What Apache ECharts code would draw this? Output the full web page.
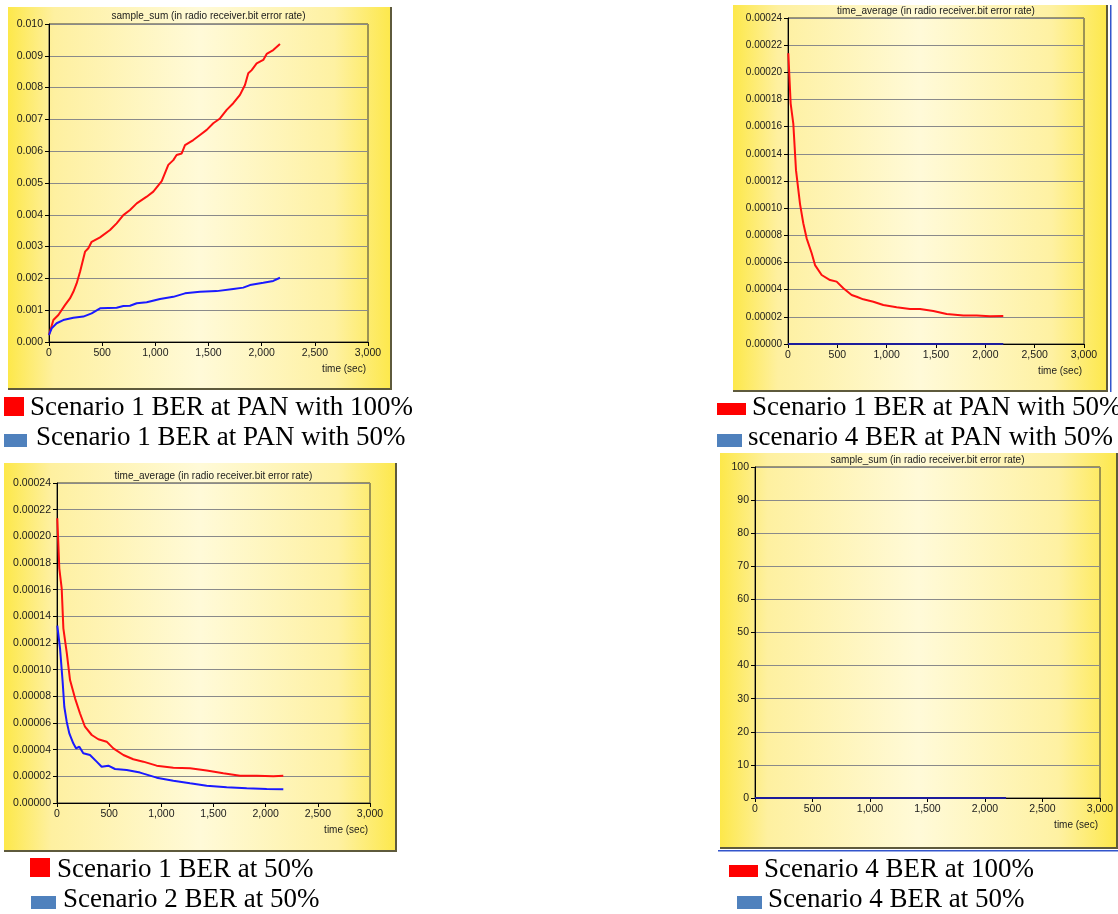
<!DOCTYPE html>
<html>
<head>
<meta charset="utf-8">
<title>Bit error rate — radio receiver</title>
<script src="https://cdn.jsdelivr.net/npm/echarts@6/dist/echarts.min.js"></script>
<style>
  html, body { margin: 0; padding: 0; background: #ffffff; }
  #chart { width: 1118px; height: 914px; }
</style>
</head>
<body>
<div id="chart"></div>
<script>
// ---- data: time (sec) and bit error rate per series ----
const timeTicks = [0, 500, 1000, 1500, 2000, 2500, 3000];

// Panel A: sample_sum, Scenario 1 at PAN 100% / 50%
const s1Pan100Time = [0, 41, 88, 150, 197, 229, 260, 292, 339, 370, 401, 480, 574, 636, 699, 762, 825, 919, 981, 1060, 1122, 1169, 1200, 1248, 1279, 1357, 1420, 1483, 1545, 1608, 1671, 1733, 1796, 1843, 1874, 1906, 1953, 2015, 2047, 2109, 2172];
const s1Pan100Sum = [0.00022, 0.00069, 0.00085, 0.00116, 0.00137, 0.00158, 0.00184, 0.00221, 0.00284, 0.00295, 0.00315, 0.00329, 0.00352, 0.00373, 0.00399, 0.00415, 0.00436, 0.00457, 0.00473, 0.00506, 0.00557, 0.00572, 0.00588, 0.00593, 0.00619, 0.00635, 0.00651, 0.00667, 0.00688, 0.00703, 0.00730, 0.00751, 0.00777, 0.00808, 0.00845, 0.00855, 0.00876, 0.00887, 0.00906, 0.00918, 0.00937];
const s1Pan50Time = [0, 25, 72, 134, 229, 323, 401, 480, 636, 699, 762, 825, 919, 1044, 1169, 1279, 1420, 1577, 1733, 1827, 1890, 2015, 2109, 2172];
const s1Pan50Sum = [0.00022, 0.00043, 0.00059, 0.00069, 0.00076, 0.00080, 0.00090, 0.00106, 0.00108, 0.00113, 0.00114, 0.00122, 0.00125, 0.00135, 0.00142, 0.00153, 0.00158, 0.00160, 0.00167, 0.00171, 0.00179, 0.00186, 0.00192, 0.00202];

// Panel B: time_average, Scenario 1 vs scenario 4 at PAN 50%
const s1Pan50AvgTime = [3, 27, 54, 81, 122, 155, 189, 240, 274, 341, 426, 493, 561, 645, 696, 763, 865, 966, 1101, 1236, 1338, 1473, 1608, 1777, 1912, 2047, 2182];
const s1Pan50Avg = [0.000214, 0.000177, 0.000162, 0.000128, 0.000103, 0.0000889, 0.0000778, 0.0000668, 0.0000581, 0.0000508, 0.0000471, 0.0000459, 0.0000410, 0.0000361, 0.0000348, 0.0000329, 0.0000311, 0.0000287, 0.0000270, 0.0000258, 0.0000258, 0.0000243, 0.0000221, 0.0000209, 0.0000209, 0.0000204, 0.0000206];
const s4Pan50AvgTime = [0, 2182];
const s4Pan50Avg = [0, 0];

// Panel C: time_average, Scenario 1 vs Scenario 2 at 50%
const s1At50Time = [3, 22, 45, 61, 93, 125, 173, 220, 268, 333, 396, 476, 540, 636, 731, 827, 955, 1115, 1275, 1435, 1594, 1754, 1914, 2074, 2169];
const s1At50Avg = [0.0002135, 0.000176, 0.000161, 0.000131, 0.000113, 0.0000922, 0.0000785, 0.0000673, 0.0000572, 0.0000510, 0.0000478, 0.0000460, 0.0000410, 0.0000360, 0.0000328, 0.0000310, 0.0000280, 0.0000265, 0.0000260, 0.0000243, 0.0000223, 0.0000205, 0.0000205, 0.0000200, 0.0000205];
const s2At50Time = [3, 29, 54, 70, 93, 118, 156, 182, 214, 252, 316, 380, 428, 492, 556, 668, 796, 955, 1115, 1275, 1435, 1626, 1818, 2010, 2169];
const s2At50Avg = [0.000133, 0.000116, 0.000091, 0.0000722, 0.0000610, 0.0000522, 0.0000448, 0.0000410, 0.0000422, 0.0000373, 0.0000360, 0.0000310, 0.0000272, 0.0000280, 0.0000255, 0.0000248, 0.0000228, 0.0000190, 0.0000167, 0.0000148, 0.0000130, 0.0000118, 0.0000110, 0.0000105, 0.0000103];

// Panel D: sample_sum, Scenario 4 at 100% / 50%
const s4At100Time = [0, 2183];
const s4At100Sum = [0, 0];
const s4At50Time = [0, 2183];
const s4At50Sum = [0, 0];

const statTitles = ['sample_sum (in radio receiver.bit error rate)', 'time_average (in radio receiver.bit error rate)'];
const legendTexts = [
  ['Scenario 1 BER at PAN with 100%', 'Scenario 1 BER at PAN with 50%'],
  ['Scenario 1 BER at PAN with 50%', 'scenario 4 BER at PAN with 50%'],
  ['Scenario 1 BER at 50%', 'Scenario 2 BER at 50%'],
  ['Scenario 4 BER at 100%', 'Scenario 4 BER at 50%']
];

// ---- layout and styling ----
const RED = '#ff1010';
const BLUE = '#1a1aff';
const KEY_RED = '#ff0000';
const KEY_BLUE = '#4f81bd';
const SANS = '"Liberation Sans", Arial, sans-serif';
const SERIF = '"Liberation Serif", "Times New Roman", serif';

const panels = [
  { box: [8, 7, 384, 383], grid: [49, 24, 319, 318], yMax: 0.010, yStep: 0.001, dec: 3, title: statTitles[0], titleY: 16,
    keys: [{ r: [4, 397, 20, 19], tx: 30, ty: 408 }, { r: [4, 434, 23, 13], tx: 36, ty: 438 }] },
  { box: [733, 5, 375, 387], grid: [788, 18, 296, 326], yMax: 0.00024, yStep: 0.00002, dec: 5, title: statTitles[1], titleY: 11,
    keys: [{ r: [717, 403, 29, 12], tx: 752, ty: 408 }, { r: [717, 434, 25, 13], tx: 748, ty: 438 }] },
  { box: [4, 463, 393, 389], grid: [57, 483, 313, 320], yMax: 0.00024, yStep: 0.00002, dec: 5, title: statTitles[1], titleY: 476,
    keys: [{ r: [30, 858, 20, 19], tx: 57, ty: 870 }, { r: [31, 896, 25, 13], tx: 63, ty: 900 }] },
  { box: [720, 453, 398, 396], grid: [755, 467, 345, 331], yMax: 100, yStep: 10, dec: 0, title: statTitles[0], titleY: 460,
    keys: [{ r: [729, 865, 29, 12], tx: 764, ty: 870 }, { r: [737, 896, 25, 13], tx: 768, ty: 900 }] }
];

const seriesDefs = [
  { panel: 0, name: legendTexts[0][0], t: s1Pan100Time, v: s1Pan100Sum, color: RED },
  { panel: 0, name: legendTexts[0][1], t: s1Pan50Time, v: s1Pan50Sum, color: BLUE },
  { panel: 1, name: legendTexts[1][0], t: s1Pan50AvgTime, v: s1Pan50Avg, color: RED },
  { panel: 1, name: legendTexts[1][1], t: s4Pan50AvgTime, v: s4Pan50Avg, color: '#1c1c9c' },
  { panel: 2, name: legendTexts[2][0], t: s1At50Time, v: s1At50Avg, color: RED },
  { panel: 2, name: legendTexts[2][1], t: s2At50Time, v: s2At50Avg, color: BLUE },
  { panel: 3, name: legendTexts[3][0], t: s4At100Time, v: s4At100Sum, color: RED },
  { panel: 3, name: legendTexts[3][1], t: s4At50Time, v: s4At50Sum, color: '#1c1c9c' }
];

const commaFmt = v => String(v).replace(/\B(?=(\d{3})+(?!\d))/g, ',');

const panelFill = new echarts.graphic.LinearGradient(0, 0, 1, 0, [
  { offset: 0, color: '#fde84a' },
  { offset: 0.12, color: '#fef0a0' },
  { offset: 0.5, color: '#fffad8' },
  { offset: 0.85, color: '#fef1a2' },
  { offset: 1, color: '#fde84a' }
]);

const grids = [], xAxes = [], yAxes = [], graphics = [];

panels.forEach((p, i) => {
  const [gl, gt, gw, gh] = p.grid;
  grids.push({ left: gl, top: gt, width: gw, height: gh, show: true, borderColor: '#3a3a3a', borderWidth: 1, backgroundColor: 'transparent' });
  xAxes.push({
    type: 'value', gridIndex: i, min: timeTicks[0], max: timeTicks[timeTicks.length - 1], interval: timeTicks[1] - timeTicks[0],
    name: 'time (sec)', nameLocation: 'end', nameGap: -2,
    nameTextStyle: { fontFamily: SANS, fontSize: 10, color: '#1a1a1a', align: 'right', verticalAlign: 'top', padding: [22, 0, 0, 0] },
    axisLine: { show: true, onZero: false, lineStyle: { color: '#000', width: 1 } },
    axisTick: { show: true, length: 4, lineStyle: { color: '#000' } },
    axisLabel: { fontFamily: SANS, fontSize: 10.5, color: '#1a1a1a', margin: 6, formatter: commaFmt },
    splitLine: { show: false }
  });
  yAxes.push({
    type: 'value', gridIndex: i, min: 0, max: p.yMax, interval: p.yStep,
    axisLine: { show: true, lineStyle: { color: '#000', width: 1 } },
    axisTick: { show: true, length: 4, lineStyle: { color: '#000' } },
    axisLabel: { fontFamily: SANS, fontSize: i === 1 ? 10 : 10.5, color: '#1a1a1a', margin: 6, formatter: v => v.toFixed(p.dec) },
    splitLine: { show: true, lineStyle: { color: '#8a8a8a', width: 1 } }
  });

  // panel backdrop with its darker right and bottom frame
  const [bx, by, bw, bh] = p.box;
  graphics.push({ type: 'rect', z: -10, shape: { x: bx, y: by, width: bw, height: bh }, style: { fill: panelFill } });
  graphics.push({ type: 'rect', z: -9, shape: { x: bx + bw - 2, y: by, width: 2, height: bh }, style: { fill: '#5e5a3c' } });
  graphics.push({ type: 'rect', z: -9, shape: { x: bx, y: by + bh - 2, width: bw, height: 2 }, style: { fill: '#5e5a3c' } });

  // statistic title centred over the plot
  graphics.push({ type: 'text', z: 5, x: gl + gw / 2, y: p.titleY,
    style: { text: p.title, font: '10px ' + SANS, fill: '#1a1a1a', align: 'center', verticalAlign: 'middle' } });

  // key lines below each panel
  p.keys.forEach((k, j) => {
    graphics.push({ type: 'rect', z: 5, shape: { x: k.r[0], y: k.r[1], width: k.r[2], height: k.r[3] },
      style: { fill: j === 0 ? KEY_RED : KEY_BLUE } });
    graphics.push({ type: 'text', z: 5, x: k.tx, y: k.ty,
      style: { text: legendTexts[i][j], font: '27px ' + SERIF, fill: '#000', align: 'left', verticalAlign: 'middle' } });
  });
});

// blue rule lines beside the right-hand panels
graphics.push({ type: 'rect', z: -9, shape: { x: 1110, y: 5, width: 1.5, height: 387 }, style: { fill: '#3355cc' } });
graphics.push({ type: 'rect', z: -9, shape: { x: 718, y: 850, width: 400, height: 1.5 }, style: { fill: '#3355cc' } });

const series = seriesDefs.map(s => ({
  type: 'line', name: s.name, xAxisIndex: s.panel, yAxisIndex: s.panel,
  data: s.t.map((t, k) => [t, s.v[k]]),
  showSymbol: false, symbol: 'none', smooth: false, clip: false,
  lineStyle: { color: s.color, width: 2 }, itemStyle: { color: s.color }, z: 3
}));

const chart = echarts.init(document.getElementById('chart'), null, { renderer: 'canvas' });
chart.setOption({
  animation: false,
  backgroundColor: '#ffffff',
  grid: grids, xAxis: xAxes, yAxis: yAxes,
  graphic: { elements: graphics },
  series: series
});
</script>
</body>
</html>
